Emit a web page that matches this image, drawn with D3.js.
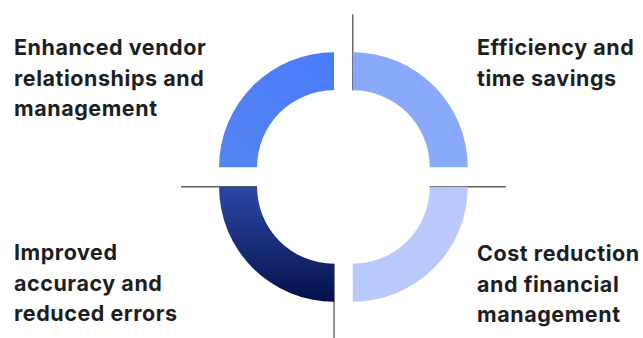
<!DOCTYPE html>
<html>
<head>
<meta charset="utf-8">
<script src="https://cdn.jsdelivr.net/npm/d3@7"></script>
<style>
  html, body { margin: 0; padding: 0; background: #ffffff; }
  svg { display: block; }
</style>
</head>
<body>
<svg id="chart" width="643" height="338"></svg>
<script>
// ---- data ----
const categories = [
  "Efficiency and time savings",
  "Cost reduction and financial management",
  "Improved accuracy and reduced errors",
  "Enhanced vendor relationships and management"
];
const labelLines = [
  ["Efficiency and", "time savings"],
  ["Cost reduction", "and financial", "management"],
  ["Improved", "accuracy and", "reduced errors"],
  ["Enhanced vendor", "relationships and", "management"]
];
const values = [1, 1, 1, 1];
const colors = ["#89a9fb", "#b9c9fc", "url(#gradBL)", "url(#gradTL)"];

// ---- layout ----
const W = 643, H = 338;
const cx = 343.4, cy = 177;
const gapX = 9.35, gapY = 9.7;
const outerR = 115, innerR = 77;
const svg = d3.select("#chart");

const defs = svg.append("defs");
const gBL = defs.append("linearGradient").attr("id", "gradBL")
  .attr("x1", 0).attr("y1", 0).attr("x2", 0).attr("y2", 1);
gBL.append("stop").attr("offset", "0%").attr("stop-color", "#2c48a6");
gBL.append("stop").attr("offset", "100%").attr("stop-color", "#04104a");
const gTL = defs.append("linearGradient").attr("id", "gradTL")
  .attr("x1", 0).attr("y1", 1).attr("x2", 1).attr("y2", 0);
gTL.append("stop").attr("offset", "0%").attr("stop-color", "#5684f2");
gTL.append("stop").attr("offset", "100%").attr("stop-color", "#4a7bfb");

const pie = d3.pie().sort(null).startAngle(0).endAngle(2 * Math.PI);
const arcs = pie(values);
const arc = d3.arc().innerRadius(innerR).outerRadius(outerR);

function offset(d) {
  const mid = (d.startAngle + d.endAngle) / 2;
  const sx = Math.sin(mid) >= 0 ? 1 : -1;
  const sy = -Math.cos(mid) >= 0 ? 1 : -1;
  return [cx + sx * gapX, cy + sy * gapY];
}

// separator lines (drawn under arcs)
const lineExt = 38;
const lineSpecs = [
  { q: 0, angle: "start" },  // top vertical
  { q: 1, angle: "start" },  // right horizontal
  { q: 2, angle: "start" },  // bottom vertical
  { q: 2, angle: "end" }     // left horizontal
];
svg.append("g").selectAll("line").data(lineSpecs).join("line")
  .each(function(s) {
    const d = arcs[s.q];
    const a = s.angle === "start" ? d.startAngle : d.endAngle;
    const [ox, oy] = offset(d);
    const dx = Math.sin(a), dy = -Math.cos(a);
    const r2 = s.q === 2 && s.angle === "start" ? H : outerR + lineExt;
    d3.select(this)
      .attr("x1", ox + dx * innerR).attr("y1", oy + dy * innerR)
      .attr("x2", ox + dx * r2).attr("y2", oy + dy * r2);
  })
  .attr("stroke", "#5f6064").attr("stroke-width", 1.4);

svg.append("g").selectAll("path").data(arcs).join("path")
  .attr("d", arc)
  .attr("transform", d => `translate(${offset(d)})`)
  .attr("fill", (d, i) => colors[i]);

// labels
const labelPos = [
  { x: 477, y: 55 },
  { x: 477, y: 261 },
  { x: 14, y: 260 },
  { x: 14, y: 55 }
];
const lineH = 30.5;
const labels = svg.append("g")
  .attr("font-family", "Inter, 'Open Sans', sans-serif")
  .attr("font-weight", 700)
  .attr("font-size", 21.5)
  .attr("letter-spacing", 0.55)
  .attr("fill", "#1e1e1f");
labels.selectAll("text").data(categories).join("text")
  .attr("x", (d, i) => labelPos[i].x)
  .attr("y", (d, i) => labelPos[i].y)
  .each(function(d, i) {
    d3.select(this).selectAll("tspan").data(labelLines[i]).join("tspan")
      .attr("x", labelPos[i].x)
      .attr("dy", (t, j) => j === 0 ? 0 : lineH)
      .text(t => t);
  });
</script>
</body>
</html>
